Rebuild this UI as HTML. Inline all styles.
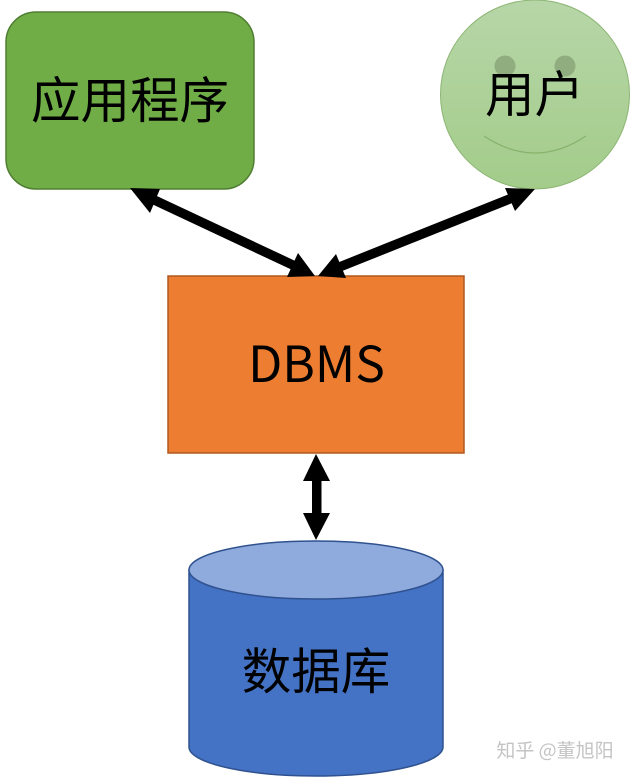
<!DOCTYPE html>
<html>
<head>
<meta charset="utf-8">
<style>
html,body{margin:0;padding:0;background:#fff;}
svg{display:block;}
text{font-family:"Noto Sans CJK SC","Liberation Sans",sans-serif;fill:#000;}
</style>
</head>
<body>
<svg width="630" height="777" viewBox="0 0 630 777" xmlns="http://www.w3.org/2000/svg">
<defs>
<linearGradient id="g" x1="0" y1="0" x2="0" y2="1">
<stop offset="0" stop-color="#b7d6a8"/>
<stop offset="1" stop-color="#a3cc8a"/>
</linearGradient>
</defs>
<rect width="630" height="777" fill="#fff"/>

<rect x="6" y="12" width="248" height="177" rx="30" ry="30" fill="#70ad47" stroke="#507e32" stroke-width="1.5"/>
<text x="130" y="118" font-size="49.5" text-anchor="middle">应用程序</text>

<circle cx="535" cy="94.5" r="94.5" fill="url(#g)" stroke="#8cb573" stroke-width="1"/>
<circle cx="505" cy="66" r="10.5" fill="#8fad7e"/>
<circle cx="565" cy="66" r="10.5" fill="#8fad7e"/>
<path d="M484 136 Q535 170 586 136" fill="none" stroke="#86b26c" stroke-width="1.2"/>
<text x="534.5" y="112" font-size="49.5" text-anchor="middle">用户</text>

<rect x="168" y="276" width="296" height="177" fill="#ed7d31" stroke="#ae5a21" stroke-width="1.5"/>
<text x="316.5" y="382" font-size="49.7" text-anchor="middle">DBMS</text>

<path d="M189 570 V747 A127 29 0 0 0 443 747 V570 Z" fill="#4472c4" stroke="#2f528f" stroke-width="1.5"/>
<ellipse cx="316" cy="570" rx="127" ry="29" fill="#8faadc" stroke="#2f528f" stroke-width="1.5"/>
<text x="316" y="689" font-size="49.5" text-anchor="middle">数据库</text>

<g fill="#000" stroke="none">
<polygon points="130,188 160,189 150,213"/>
<polygon points="315,276 298,253 287,277"/>
<line x1="150" y1="198" x2="297" y2="267" stroke="#000" stroke-width="9.5"/>

<polygon points="318,276 336,254 346,278"/>
<polygon points="535,189 505,188 515,211"/>
<line x1="337" y1="268" x2="512" y2="198" stroke="#000" stroke-width="9.5"/>

<polygon points="316,454 303,481 330,481"/>
<polygon points="316,540 303,513 330,513"/>
<rect x="312" y="478" width="9.5" height="38"/>
</g>

<text x="555" y="757" font-size="19" text-anchor="middle" style="fill:#c4c4c4">知乎 @董旭阳</text>
</svg>
</body>
</html>
